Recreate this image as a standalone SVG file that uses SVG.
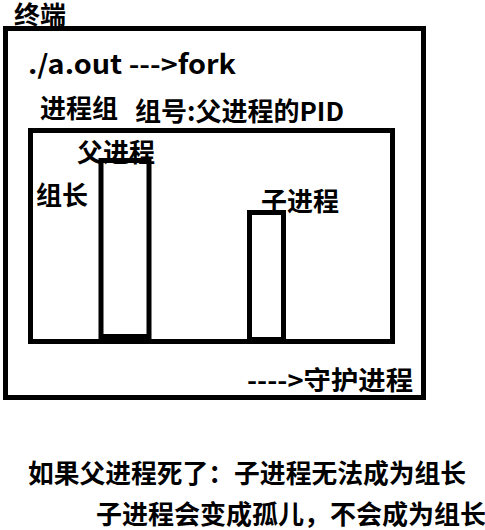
<svg xmlns="http://www.w3.org/2000/svg" width="485" height="530" viewBox="0 0 485 530">
<style>
.box{fill:none;stroke:#000;stroke-width:5}
.t{font-family:"Noto Sans CJK SC","Liberation Sans",sans-serif;font-weight:bold;font-size:26px;fill:#000}
</style>
<rect width="485" height="530" fill="#fff"/>
<g id="terminal">
<rect class="box" x="5.5" y="28.5" width="418" height="369"/>
<text class="t" x="14" y="24" style="font-size:25px" textLength="52" lengthAdjust="spacingAndGlyphs">终端</text>
<text class="t" x="28" y="74" textLength="208" lengthAdjust="spacingAndGlyphs">./a.out  ---&gt;fork</text>
<text class="t" x="247" y="390" textLength="166" lengthAdjust="spacingAndGlyphs">----&gt;守护进程</text>
</g>
<g id="process-group">
<rect class="box" x="30.5" y="130.5" width="362" height="211"/>
<text class="t" x="40" y="118">进程组</text>
<text class="t" x="135" y="121" textLength="209" lengthAdjust="spacingAndGlyphs">组号:父进程的PID</text>
<text class="t" x="36" y="205">组长</text>
</g>
<g id="parent">
<rect class="box" x="101" y="160.5" width="48" height="176"/>
<text class="t" x="77" y="162">父进程</text>
</g>
<g id="child">
<rect class="box" x="249.5" y="212.5" width="34" height="127"/>
<text class="t" x="261" y="211">子进程</text>
</g>
<g id="connectors"></g>
<g id="notes">
<text class="t" x="28" y="483" textLength="438" lengthAdjust="spacingAndGlyphs">如果父进程死了：子进程无法成为组长</text>
<text class="t" x="96" y="524">子进程会变成孤儿，不会成为组长</text>
</g>
</svg>
